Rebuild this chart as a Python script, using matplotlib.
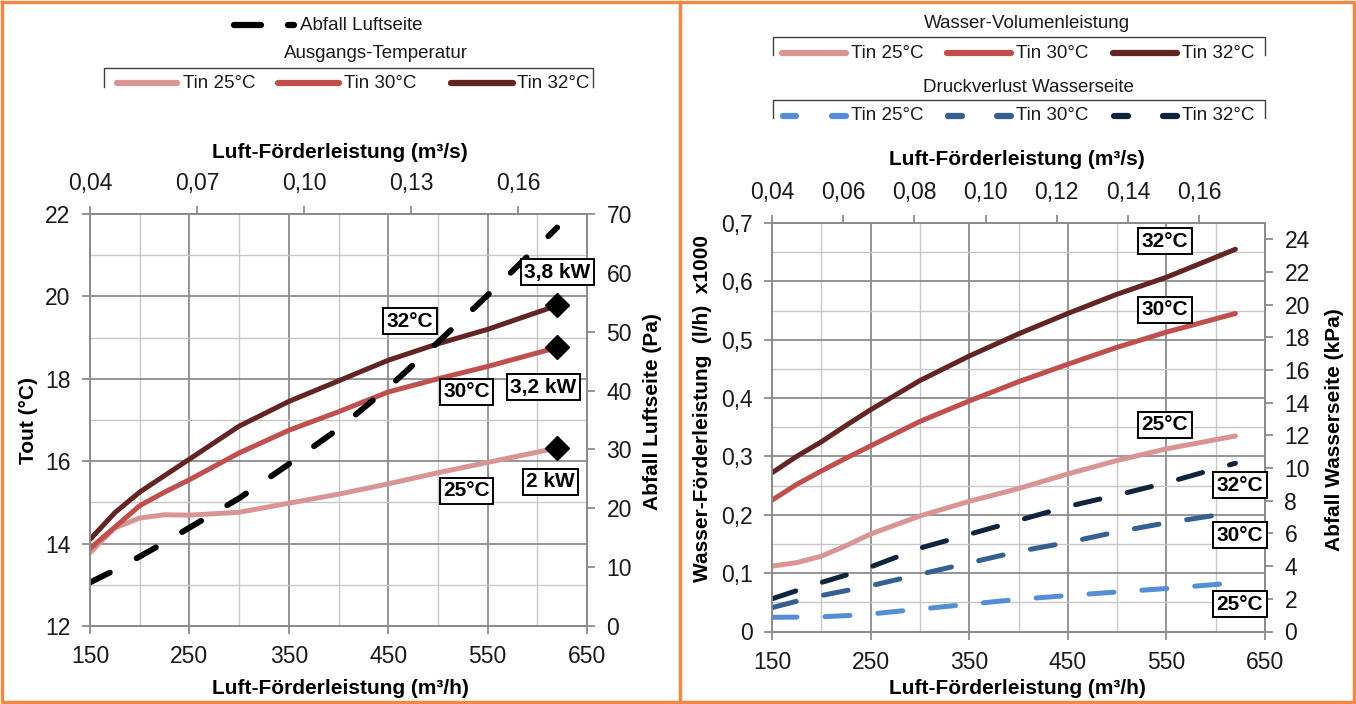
import matplotlib
matplotlib.use('Agg')
import matplotlib.pyplot as plt
from matplotlib.lines import Line2D
from matplotlib.ticker import MultipleLocator, FixedLocator
from matplotlib import font_manager

names = {f.name for f in font_manager.fontManager.ttflist}
HAS_NARROW = 'Liberation Sans Narrow' in names
NARROW = 'Liberation Sans Narrow' if HAS_NARROW else 'Liberation Sans'
plt.rcParams['font.family'] = [NARROW, 'DejaVu Sans']
BOLD_FAM = ['Liberation Sans', 'DejaVu Sans']

# ---------------- data ----------------
air_flow = [150, 175, 200, 225, 250, 300, 350, 400, 450, 500, 550, 620]   # m3/h

tout_25 = [13.78, 14.38, 14.62, 14.70, 14.69, 14.76, 14.98, 15.20, 15.45, 15.72, 15.97, 16.32]
tout_30 = [13.88, 14.40, 14.92, 15.25, 15.55, 16.20, 16.75, 17.20, 17.68, 18.00, 18.30, 18.76]
tout_32 = [14.10, 14.75, 15.25, 15.65, 16.05, 16.85, 17.45, 17.95, 18.45, 18.85, 19.20, 19.78]
abfall_luft = [7.4, 9.5, 11.8, 14.2, 16.7, 21.7, 27.5, 33.5, 40.5, 48.2, 56.2, 67.7]   # Pa
power_labels = ['2 kW', '3,2 kW', '3,8 kW']

water_25 = [0.112, 0.118, 0.129, 0.147, 0.167, 0.198, 0.223, 0.245, 0.270, 0.293, 0.313, 0.335]
water_30 = [0.225, 0.252, 0.275, 0.297, 0.318, 0.360, 0.395, 0.428, 0.458, 0.487, 0.513, 0.545]
water_32 = [0.272, 0.300, 0.325, 0.353, 0.380, 0.430, 0.472, 0.510, 0.545, 0.578, 0.607, 0.655]
dp_25 = [0.87, 0.88, 0.90, 0.97, 1.07, 1.37, 1.67, 1.97, 2.20, 2.42, 2.63, 2.98]   # kPa
dp_30 = [1.46, 1.85, 2.20, 2.50, 2.80, 3.50, 4.20, 4.90, 5.45, 6.10, 6.65, 7.30]
dp_32 = [2.00, 2.50, 3.00, 3.45, 3.95, 5.10, 5.95, 6.80, 7.65, 8.35, 9.10, 10.30]

series_names = ['Tin 25°C', 'Tin 30°C', 'Tin 32°C']
temp_tags = ['25°C', '30°C', '32°C']

top_ticks_left = [0.04, 0.07, 0.10, 0.13, 0.16]
top_ticks_right = [0.04, 0.06, 0.08, 0.10, 0.12, 0.14, 0.16]

# ---------------- style ----------------
RED = ['#d99594', '#c0504d', '#632523']
BLUE = ['#558ed5', '#376092', '#10243e']
GRID_MAJ = '#8c8c8c'
GRID_MIN = '#c8c8c8'
ORANGE = '#EE8A45'
TICK_FS = 18 if HAS_NARROW else 16.5
LEG_FS = 15.5 if HAS_NARROW else 13.5
LAB_FS = 15
BOX_FS = 15

W, H = 1356, 704
fig = plt.figure(figsize=(W / 100, H / 100), dpi=100)


def fx(px):
    return px / W


def fy(py):
    return 1 - py / H


def comma(v, nd):
    if v == 0:
        return '0'
    return f'{v:.{nd}f}'.replace('.', ',')


TICK_KW = dict(direction='out', length=6, width=1.3, color=GRID_MAJ, labelsize=TICK_FS,
               pad=8, labelcolor='#1a1a1a')


def style_axes(a):
    for s in a.spines.values():
        s.set_color(GRID_MAJ)
        s.set_linewidth(1.3)
    a.tick_params(which='major', **TICK_KW)
    a.tick_params(which='minor', length=0)


def box_text(host, tr, x, y, s):
    host.text(x, y, s, transform=tr, ha='center', va='center', fontsize=BOX_FS,
              fontweight='bold', family=BOLD_FAM, zorder=20, clip_on=False,
              bbox=dict(boxstyle='square,pad=0.16', fc='white', ec='black', lw=1.4))


def axis_label(axis, text, cx, cy):
    axis.set_label_text(text, fontsize=LAB_FS, fontweight='bold', family=BOLD_FAM)
    axis.set_label_coords(cx, cy)
    axis.label.set_va('center')


# ================= left chart =================
ax = fig.add_axes([fx(90), fy(626), 497 / W, 412 / H])
ax.set_xlim(150, 650)
ax.set_ylim(12, 22)
ax.xaxis.set_major_locator(MultipleLocator(100))
ax.xaxis.set_minor_locator(MultipleLocator(50))
ax.yaxis.set_major_locator(MultipleLocator(2))
ax.yaxis.set_minor_locator(MultipleLocator(1))
ax.grid(which='major', color=GRID_MAJ, lw=1.3)
ax.grid(which='minor', color=GRID_MIN, lw=1.0)
ax.set_axisbelow(True)
style_axes(ax)
ax.set_xticks([150, 250, 350, 450, 550, 650])
ax.set_yticks([12, 14, 16, 18, 20, 22])

for vals, c in zip([tout_25, tout_30, tout_32], RED):
    ax.plot(air_flow, vals, color=c, lw=3.6, solid_capstyle='round',
            solid_joinstyle='round', zorder=3)
for vals in [tout_25, tout_30, tout_32]:
    ax.plot(air_flow[-1], vals[-1], marker='D', ms=12, color='black', zorder=4, clip_on=False)

axr = ax.twinx()
axr.set_ylim(0, 70)
axr.yaxis.set_major_locator(MultipleLocator(10))
style_axes(axr)
axr.plot(air_flow, abfall_luft, color='black', lw=4.2, dashes=(3.8, 5.2),
         dash_capstyle='round', zorder=5)

axt = ax.twiny()
axt.set_xlim(0.04, 0.1793)
axt.xaxis.set_major_locator(FixedLocator(top_ticks_left))
axt.set_xticklabels([comma(v, 2) for v in top_ticks_left])
style_axes(axt)

axis_label(ax.xaxis, 'Luft-Förderleistung (m³/h)', 0.503, (626 - 688) / 412)
axis_label(axt.xaxis, 'Luft-Förderleistung (m³/s)', 0.503, (626 - 153) / 412)
axis_label(ax.yaxis, 'Tout (°C)', (28 - 90) / 497, (626 - 420) / 412)
axis_label(axr.yaxis, 'Abfall Luftseite (Pa)', (652 - 90) / 497, (626 - 412) / 412)

box_text(axt, ax.transData, 472, 19.40, temp_tags[2])
box_text(axt, ax.transData, 529, 17.68, temp_tags[1])
box_text(axt, ax.transData, 529, 15.28, temp_tags[0])
box_text(axt, ax.transData, 620, 20.59, power_labels[2])
box_text(axt, ax.transData, 606, 17.80, power_labels[1])
box_text(axt, ax.transData, 613, 15.50, power_labels[0])

# ================= right chart =================
bx = fig.add_axes([fx(772), fy(631.5), 493 / W, 408.5 / H])
bx.set_xlim(150, 650)
bx.set_ylim(0, 0.7)
bx.xaxis.set_major_locator(MultipleLocator(100))
bx.xaxis.set_minor_locator(MultipleLocator(50))
bx.yaxis.set_major_locator(MultipleLocator(0.1))
bx.yaxis.set_minor_locator(MultipleLocator(0.05))
bx.grid(which='major', color=GRID_MAJ, lw=1.3)
bx.grid(which='minor', color=GRID_MIN, lw=1.0)
bx.set_axisbelow(True)
style_axes(bx)
bx.set_xticks([150, 250, 350, 450, 550, 650])
yt = [0, 0.1, 0.2, 0.3, 0.4, 0.5, 0.6, 0.7]
bx.set_yticks(yt)
bx.set_yticklabels([comma(v, 1) for v in yt])

for vals, c in zip([water_25, water_30, water_32], RED):
    bx.plot(air_flow, vals, color=c, lw=3.6, solid_capstyle='round',
            solid_joinstyle='round', zorder=3)

bxr = bx.twinx()
bxr.set_ylim(0, 25)
bxr.set_yticks(list(range(0, 25, 2)))
style_axes(bxr)
for vals, c in zip([dp_25, dp_30, dp_32], BLUE):
    bxr.plot(air_flow, vals, color=c, lw=3.6, dashes=(5.0, 5.6),
             dash_capstyle='round', zorder=5)

bxt = bx.twiny()
bxt.set_xlim(0.04, 0.1785)
bxt.xaxis.set_major_locator(FixedLocator(top_ticks_right))
bxt.set_xticklabels([comma(v, 2) for v in top_ticks_right])
style_axes(bxt)

axis_label(bx.xaxis, 'Luft-Förderleistung (m³/h)', (1017 - 772) / 493, (631.5 - 688) / 408.5)
axis_label(bxt.xaxis, 'Luft-Förderleistung (m³/s)', (1017 - 772) / 493, (631.5 - 160) / 408.5)
axis_label(bx.yaxis, 'Wasser-Förderleistung  (l/h)  x1000', (703 - 772) / 493, (631.5 - 409) / 408.5)
axis_label(bxr.yaxis, 'Abfall Wasserseite (kPa)', (1334 - 772) / 493, (631.5 - 430) / 408.5)

box_text(bxt, bx.transData, 548.6, 0.669, temp_tags[2])
box_text(bxt, bx.transData, 548.6, 0.551, temp_tags[1])
box_text(bxt, bx.transData, 548.6, 0.354, temp_tags[0])
box_text(bxt, bx.transData, 624.6, 0.251, temp_tags[2])
box_text(bxt, bx.transData, 624.6, 0.165, temp_tags[1])
box_text(bxt, bx.transData, 624.6, 0.047, temp_tags[0])

# ================= legends (figure pixel layout) =================
T = fig.transFigure


def seg(x0, x1, y, color, lw):
    fig.add_artist(Line2D([fx(x0), fx(x1)], [fy(y), fy(y)], color=color, lw=lw,
                          solid_capstyle='round', transform=T))


def label(x, y, s, ha='left'):
    fig.text(fx(x), fy(y), s, ha=ha, va='center', fontsize=LEG_FS, color='#1a1a1a')


def bracket(x0, x1, ytop, ybot):
    fig.add_artist(Line2D([fx(x0), fx(x0), fx(x1), fx(x1)],
                          [fy(ybot), fy(ytop), fy(ytop), fy(ybot)],
                          color='#404040', lw=1.0, transform=T))


# left legend
seg(234, 261, 25, 'black', 4.5)
seg(288, 294, 25, 'black', 4.5)
label(300, 25, 'Abfall Luftseite')
label(376, 54, 'Ausgangs-Temperatur', ha='center')
bracket(104, 593, 68, 87)
for (x0, x1, xt), c, n in zip([(117, 177, 183), (278, 339, 344), (451, 513, 517)], RED, series_names):
    seg(x0, x1, 83, c, 4.5)
    label(xt, 83, n)

# right legend
label(1027, 24, 'Wasser-Volumenleistung', ha='center')
bracket(773, 1265, 37, 55)
for (x0, x1, xt), c, n in zip([(782, 846, 851), (947, 1011, 1016), (1113, 1177, 1182)], RED, series_names):
    seg(x0, x1, 53, c, 4.5)
    label(xt, 53, n)
label(1028, 87, 'Druckverlust Wasserseite', ha='center')
bracket(773, 1265, 100, 118)
for (a0, a1, b0, b1, xt), c, n in zip([(783, 796, 832, 846, 851), (948, 962, 997, 1011, 1016),
                                       (1114, 1128, 1163, 1177, 1182)], BLUE, series_names):
    seg(a0, a1, 116, c, 4.5)
    seg(b0, b1, 116, c, 4.5)
    label(xt, 116, n)

# orange panel frames
fig.add_artist(Line2D([fx(2), fx(1354), fx(1354), fx(2), fx(2)],
                      [fy(2), fy(2), fy(702), fy(702), fy(2)], color=ORANGE, lw=2.5, transform=T))
fig.add_artist(Line2D([fx(680), fx(680)], [fy(2), fy(702)], color=ORANGE, lw=2.5, transform=T))

fig.savefig('out.png', dpi=100, facecolor='white')
